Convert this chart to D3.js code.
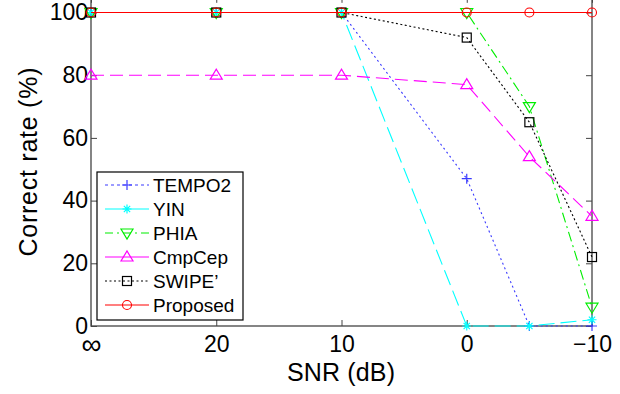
<!DOCTYPE html>
<html>
<head>
<meta charset="utf-8">
<script src="https://cdn.jsdelivr.net/npm/d3@7"></script>
<style>
  body { margin: 0; background: #fff; }
  svg text { font-family: "Liberation Sans", Arial, sans-serif; fill: #000; }
</style>
</head>
<body>
<svg id="chart" width="620" height="394"></svg>
<script>
// SNR levels, infinity is placed at 30 dB
const snr = [30, 20, 10, 0, -5, -10]
const xTicks = [30, 20, 10, 0, -10]
const xTickLabels = ["∞", "20", "10", "0", "−10"]
const yTicks = [0, 20, 40, 60, 80, 100]

const tempo2 = [100, 100, 100, 47, 0, 0]
const yin = [100, 100, 100, 0, 0, 2]
const phia = [100, 100, 100, 100, 70, 6]
const cmpcep = [80, 80, 80, 77, 54, 35]
const swipe = [100, 100, 100, 92, 65, 22]
const proposed = [100, 100, 100, 100, 100, 100]

const series = [
  {name: "TEMPO2", values: tempo2, color: "#3a3aff", dash: "2,3", legendDash: "3,3", marker: "plus"},
  {name: "YIN", values: yin, color: "#00ffff", dash: "16,6", legendDash: null, marker: "star"},
  {name: "PHIA", values: phia, color: "#00ee00", dash: "10,4,2,4", legendDash: "8,4,2,4", marker: "down"},
  {name: "CmpCep", values: cmpcep, color: "#ff00ff", dash: "13,6", legendDash: null, marker: "up"},
  {name: "SWIPE’", values: swipe, color: "#000", dash: "2,2.5", legendDash: "2,2.5", marker: "square"},
  {name: "Proposed", values: proposed, color: "#ff0000", dash: null, legendDash: null, marker: "circle"}
]

const svg = d3.select("#chart")
const mLeft = 91, mRight = 592, mTop = 12.5, mBottom = 326

const x = d3.scaleLinear().domain([30, -10]).range([mLeft, mRight])
const y = d3.scaleLinear().domain([0, 100]).range([mBottom, mTop])
const yTop = y(105)

// frame
const axisColor = "#444"
svg.append("rect")
  .attr("x", mLeft).attr("y", yTop)
  .attr("width", mRight - mLeft).attr("height", mBottom - yTop)
  .attr("fill", "none").attr("stroke", axisColor).attr("stroke-width", 1.3)

// bottom + top ticks
const xAxis = d3.axisBottom(x).tickValues(xTicks).tickSize(-6).tickFormat((d, i) => xTickLabels[i]).tickPadding(10)
const gx = svg.append("g").attr("transform", "translate(0," + mBottom + ")").call(xAxis)
gx.select(".domain").remove()
gx.selectAll("line").attr("stroke", axisColor)
gx.selectAll("text").attr("font-size", "23px").attr("dy", "0.71em")
gx.selectAll("text").filter(d => d === 30).attr("font-size", "28px").attr("dy", "0.66em")

const xTop = d3.axisTop(x).tickValues(xTicks).tickSize(-6).tickFormat("")
svg.append("g").attr("transform", "translate(0," + yTop + ")").call(xTop)
  .call(g => g.select(".domain").remove())
  .selectAll("line").attr("stroke", axisColor)

// left + right ticks
const yAxis = d3.axisLeft(y).tickValues(yTicks).tickSize(-6).tickPadding(3)
const gy = svg.append("g").attr("transform", "translate(" + mLeft + ",0)").call(yAxis)
gy.select(".domain").remove()
gy.selectAll("line").attr("stroke", axisColor)
gy.selectAll("text").attr("font-size", "23px")

svg.append("g").attr("transform", "translate(" + mRight + ",0)")
  .call(d3.axisRight(y).tickValues(yTicks).tickSize(-6).tickFormat(""))
  .call(g => g.select(".domain").remove())
  .selectAll("line").attr("stroke", axisColor)

// axis titles
svg.append("text")
  .attr("x", 341).attr("y", 381)
  .attr("text-anchor", "middle").attr("font-size", "25px")
  .attr("textLength", 108).attr("lengthAdjust", "spacing")
  .text("SNR (dB)")

svg.append("text")
  .attr("transform", "translate(37,162) rotate(-90)")
  .attr("text-anchor", "middle").attr("font-size", "25px")
  .attr("textLength", 189).attr("lengthAdjust", "spacing")
  .text("Correct rate (%)")

function drawMarker(g, type, cx, cy, color) {
  const s = 5
  if (type === "plus") {
    g.append("path").attr("d", `M${cx - s},${cy}H${cx + s}M${cx},${cy - s}V${cy + s}`)
      .attr("stroke", color).attr("stroke-width", 1.2).attr("fill", "none")
  } else if (type === "star") {
    const r = 4.5
    let d = `M${cx - r},${cy}H${cx + r}M${cx},${cy - r}V${cy + r}`
    d += `M${cx - r * 0.7},${cy - r * 0.7}L${cx + r * 0.7},${cy + r * 0.7}M${cx - r * 0.7},${cy + r * 0.7}L${cx + r * 0.7},${cy - r * 0.7}`
    g.append("path").attr("d", d).attr("stroke", color).attr("stroke-width", 1.2).attr("fill", "none")
  } else if (type === "down") {
    g.append("path").attr("d", `M${cx - 6},${cy - 4}H${cx + 6}L${cx},${cy + 6}Z`)
      .attr("stroke", color).attr("stroke-width", 1.2).attr("fill", "none")
  } else if (type === "up") {
    g.append("path").attr("d", `M${cx - 6},${cy + 4}H${cx + 6}L${cx},${cy - 6}Z`)
      .attr("stroke", color).attr("stroke-width", 1.2).attr("fill", "none")
  } else if (type === "square") {
    g.append("rect").attr("x", cx - 4.5).attr("y", cy - 4.5).attr("width", 9).attr("height", 9)
      .attr("stroke", color).attr("stroke-width", 1.2).attr("fill", "none")
  } else if (type === "circle") {
    g.append("circle").attr("cx", cx).attr("cy", cy).attr("r", 4.5)
      .attr("stroke", color).attr("stroke-width", 1.1).attr("fill", "none")
  }
}

const line = d3.line().x(d => x(d[0])).y(d => y(d[1]))
const plot = svg.append("g")

series.forEach(s => {
  const pts = snr.map((v, i) => [v, s.values[i]])
  plot.append("path").datum(pts)
    .attr("d", line)
    .attr("fill", "none")
    .attr("stroke", s.color)
    .attr("stroke-width", 1.1)
    .attr("stroke-dasharray", s.dash)
  pts.forEach(p => drawMarker(plot, s.marker, x(p[0]), y(p[1]), s.color))
})

// legend
const lg = svg.append("g")
lg.append("rect").attr("x", 97).attr("y", 172).attr("width", 146).attr("height", 148)
  .attr("fill", "#fff").attr("stroke", "#000").attr("stroke-width", 1.2)

series.forEach((s, i) => {
  const ly = 185 + i * 24
  lg.append("line").attr("x1", 105).attr("x2", 149).attr("y1", ly).attr("y2", ly)
    .attr("stroke", s.color).attr("stroke-width", 1.1).attr("stroke-dasharray", s.legendDash)
  drawMarker(lg, s.marker, 127, ly, s.color)
  lg.append("text").attr("x", 153).attr("y", ly).attr("dy", "0.36em")
    .attr("font-size", "19px").text(s.name)
})
</script>
</body>
</html>
